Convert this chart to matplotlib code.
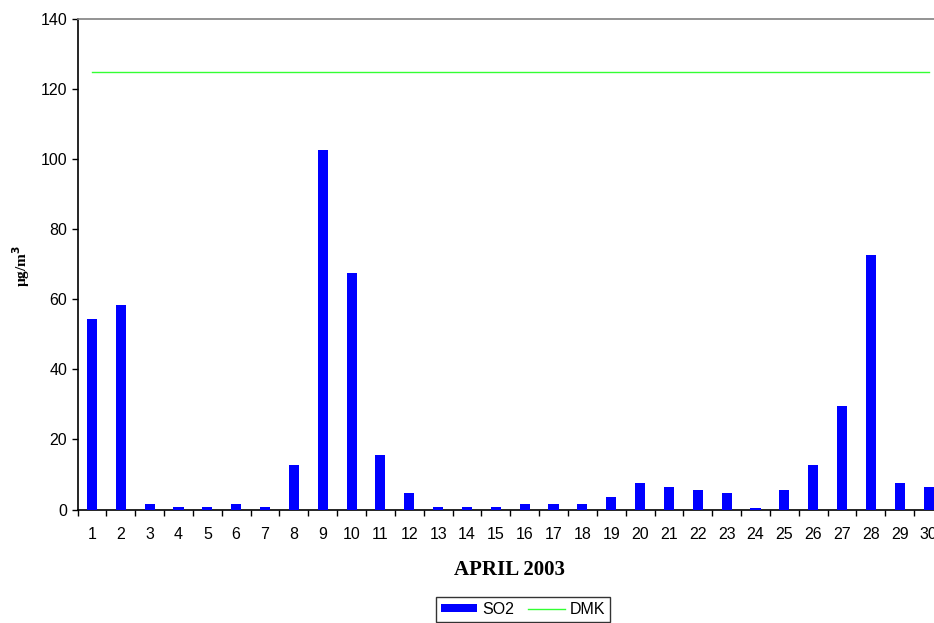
import matplotlib
matplotlib.use("Agg")
import matplotlib.pyplot as plt
from matplotlib.patches import Patch
from matplotlib.lines import Line2D

# Daily SO2 concentrations, April 2003
days = [str(d) for d in range(1, 31)]
so2 = [54.5, 58.5, 1.5, 0.7, 0.7, 1.5, 0.7, 12.6, 102.5, 67.5,
       15.6, 4.6, 0.7, 0.7, 0.7, 1.5, 1.5, 1.5, 3.6, 7.6,
       6.4, 5.5, 4.6, 0.5, 5.5, 12.6, 29.5, 72.5, 7.6, 6.4]
dmk_limit = [125] * 30
y_ticks = [0, 20, 40, 60, 80, 100, 120, 140]

W, H = 934, 623
fig = plt.figure(figsize=(W / 100, H / 100), dpi=100)
fig.patch.set_facecolor("white")

# plot area runs past the right edge of the figure
left, right, top, bottom = 77.5, 943.0, 19.0, 509.5
ax = fig.add_axes([left / W, 1 - bottom / H, (right - left) / W, (bottom - top) / H])

x = list(range(len(days)))
ax.bar(x, so2, width=0.35, color="#0000FF", edgecolor="none", zorder=3)
ax.plot(x, dmk_limit, color="#33FF33", linewidth=1.0, zorder=4)

ax.set_xlim(-0.5, len(days) - 0.5)
ax.set_ylim(0, 140)
ax.set_yticks(y_ticks)
ax.set_yticklabels([str(v) for v in y_ticks], fontsize=11.5, family="Liberation Sans")
ax.set_xticks(x)
ax.set_xticklabels(days, fontsize=11.5, family="Liberation Sans")
ax.set_xticks([i - 0.5 for i in range(len(days) + 1)], minor=True)
ax.tick_params(axis="x", which="major", length=0, pad=12.5)
ax.tick_params(axis="x", which="minor", length=4.5, width=1.0, color="black")
ax.tick_params(axis="y", length=4, width=1.0, color="black", pad=3.5)

for side in ("top", "right"):
    ax.spines[side].set_color("#808080")
    ax.spines[side].set_linewidth(1.2)
ax.spines["left"].set_color("black")
ax.spines["left"].set_linewidth(1.2)
ax.spines["bottom"].set_color("black")
ax.spines["bottom"].set_linewidth(1.2)

fig.text(510 / W, 1 - 570 / H, "APRIL 2003", ha="center", va="center",
         fontsize=15, fontweight="bold", family="Liberation Serif")
fig.text(21 / W, 1 - 266 / H, "µg/m$^\\mathbf{3}$", ha="center", va="center",
         rotation=90, fontsize=11, fontweight="bold", family="Liberation Serif")

handles = [Patch(facecolor="#0000FF", edgecolor="none"),
           Line2D([0], [0], color="#33FF33", linewidth=1.0)]
leg = fig.legend(handles, ["SO2", "DMK"], loc="upper center",
                 bbox_to_anchor=(523 / W, 1 - 597 / H), ncol=2,
                 frameon=True, fancybox=False,
                 prop={"family": "Liberation Sans", "size": 11.5},
                 handlelength=2.3, handleheight=0.4, columnspacing=0.9,
                 handletextpad=0.3, borderpad=0.3, borderaxespad=0)
leg.get_frame().set_edgecolor("black")
leg.get_frame().set_linewidth(1.0)

fig.savefig("out.png", dpi=100)
